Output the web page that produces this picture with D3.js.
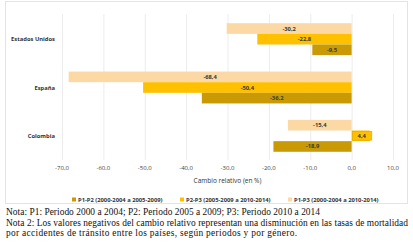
<!DOCTYPE html>
<html>
<head>
<meta charset="utf-8">
<script src="https://cdn.jsdelivr.net/npm/d3@7"></script>
<style>
  body { margin: 0; background: #fff; }
  svg { display: block; }
</style>
</head>
<body>
<div id="canvas"></div>
<script>
// data
let countries = ['Estados Unidos', 'España', 'Colombia']
let seriesNames = ['P1-P3 (2000-2004 a 2010-2014)', 'P2-P3 (2005-2009 a 2010-2014)', 'P1-P2 (2000-2004 a 2005-2009)']
let p1p3 = [-30.2, -68.4, -15.4]
let p2p3 = [-22.8, -50.4, 4.4]
let p1p2 = [-9.5, -36.2, -18.9]
let ticks = [-70, -60, -50, -40, -30, -20, -10, 0, 10]
let legendOrder = [2, 1, 0]
let notes = [
    'Nota: P1: Periodo 2000 a 2004; P2: Periodo 2005 a 2009; P3: Periodo 2010 a 2014',
    'Nota 2: Los valores negativos del cambio relativo representan una disminución en las tasas de mortalidad',
    'por accidentes de tránsito entre los países, según periodos y por género.'
]
let noteWidths = [314, 402, 291]

let colors = ['#FCD9A4', '#FFC000', '#C99A06']
let width = 413
let height = 244

// number format with comma decimal and plain hyphen
let fmt = function (d) {
    return d3.format('.1f')(d).replace('.', ',').replace('\u2212', '-')
}

let svg = d3.select('#canvas').append('svg')
    .attr('width', width)
    .attr('height', height)

// chart frame
svg.append('rect')
    .attr('x', 5.5).attr('y', 1.5)
    .attr('width', 402).attr('height', 202)
    .attr('fill', '#fff')
    .attr('stroke', '#e4e4e4')

let x = d3.scaleLinear().domain([-70, 10]).range([62, 393])
let y0 = d3.scaleBand().domain(countries).range([15, 160]).paddingInner(0.34).paddingOuter(0.17)
let y1 = d3.scaleBand().domain([0, 1, 2]).range([0, y0.bandwidth()])

// grid
svg.append('g')
    .selectAll('line')
    .data(ticks)
    .enter()
    .append('line')
    .attr('x1', (d) => x(d) + 0.5)
    .attr('x2', (d) => x(d) + 0.5)
    .attr('y1', 14)
    .attr('y2', 160)
    .attr('stroke', '#ececec')

// tick labels
svg.append('g')
    .selectAll('text')
    .data(ticks)
    .enter()
    .append('text')
    .attr('x', (d) => x(d))
    .attr('y', 170)
    .attr('text-anchor', 'middle')
    .attr('font-family', '"Open Sans", sans-serif')
    .attr('font-size', 6)
    .attr('fill', '#444')
    .text(fmt)

svg.append('text')
    .attr('x', x(-30))
    .attr('y', 183)
    .attr('text-anchor', 'middle')
    .attr('font-family', '"Open Sans", sans-serif')
    .attr('font-size', 6.5)
    .attr('fill', '#333')
    .text('Cambio relativo (en %)')

// category labels
svg.append('g')
    .selectAll('text')
    .data(countries)
    .enter()
    .append('text')
    .attr('x', 55)
    .attr('y', (d) => y0(d) + y0.bandwidth() / 2 + 2)
    .attr('text-anchor', 'end')
    .attr('font-family', '"Open Sans", sans-serif')
    .attr('font-weight', 'bold')
    .attr('font-size', 5.8)
    .attr('fill', '#333')
    .text((d) => d)

// bars
let series = [p1p3, p2p3, p1p2]
series.forEach(function (vals, s) {
    let g = svg.append('g')
    g.selectAll('rect')
        .data(vals)
        .enter()
        .append('rect')
        .attr('x', (d) => x(Math.min(0, d)))
        .attr('width', (d) => Math.abs(x(d) - x(0)))
        .attr('y', (d, i) => y0(countries[i]) + y1(s))
        .attr('height', y1.bandwidth())
        .attr('fill', colors[s])

    // positive label sits in a small callout box
    g.selectAll('rect.box')
        .data(vals.filter((d) => d > 0))
        .enter()
        .append('rect')
        .attr('class', 'box')
        .attr('x', x(0) + 1)
        .attr('y', y0(countries[vals.findIndex((v) => v > 0)]) + y1(s) + 1)
        .attr('width', (d) => x(d) - x(0) + 1)
        .attr('height', y1.bandwidth() - 2)
        .attr('fill', colors[s])
        .attr('stroke', '#e0a800')
        .attr('stroke-width', 0.6)

    g.selectAll('text')
        .data(vals)
        .enter()
        .append('text')
        .attr('x', (d) => (x(d) + x(0)) / 2 + (d > 0 ? 1 : 0))
        .attr('y', (d, i) => y0(countries[i]) + y1(s) + y1.bandwidth() / 2 + 2)
        .attr('text-anchor', 'middle')
        .attr('font-family', '"Open Sans", sans-serif')
        .attr('font-weight', 'bold')
        .attr('font-size', 5.8)
        .attr('fill', '#3a3a3a')
        .text(fmt)
})

// legend
let legend = svg.append('g')
    .selectAll('g')
    .data(legendOrder)
    .enter()
    .append('g')
    .attr('transform', (d, i) => 'translate(' + (72 + i * 108) + ', 201.5)')

legend.append('rect')
    .attr('x', 0).attr('y', -4)
    .attr('width', 4).attr('height', 4)
    .attr('fill', (d) => colors[d])

legend.append('text')
    .attr('x', 6)
    .attr('y', 0)
    .attr('font-family', '"Open Sans", sans-serif')
    .attr('font-weight', 'bold')
    .attr('font-size', 5.8)
    .attr('fill', '#333')
    .text((d) => seriesNames[d])

// notes
svg.append('g')
    .selectAll('text')
    .data(notes)
    .enter()
    .append('text')
    .attr('x', 6)
    .attr('y', (d, i) => 215 + i * 10.5)
    .attr('font-family', '"Liberation Serif", "Times New Roman", serif')
    .attr('font-size', 9.4)
    .attr('fill', '#111')
    .attr('textLength', (d, i) => noteWidths[i])
    .attr('lengthAdjust', 'spacing')
    .text((d) => d)
</script>
</body>
</html>
